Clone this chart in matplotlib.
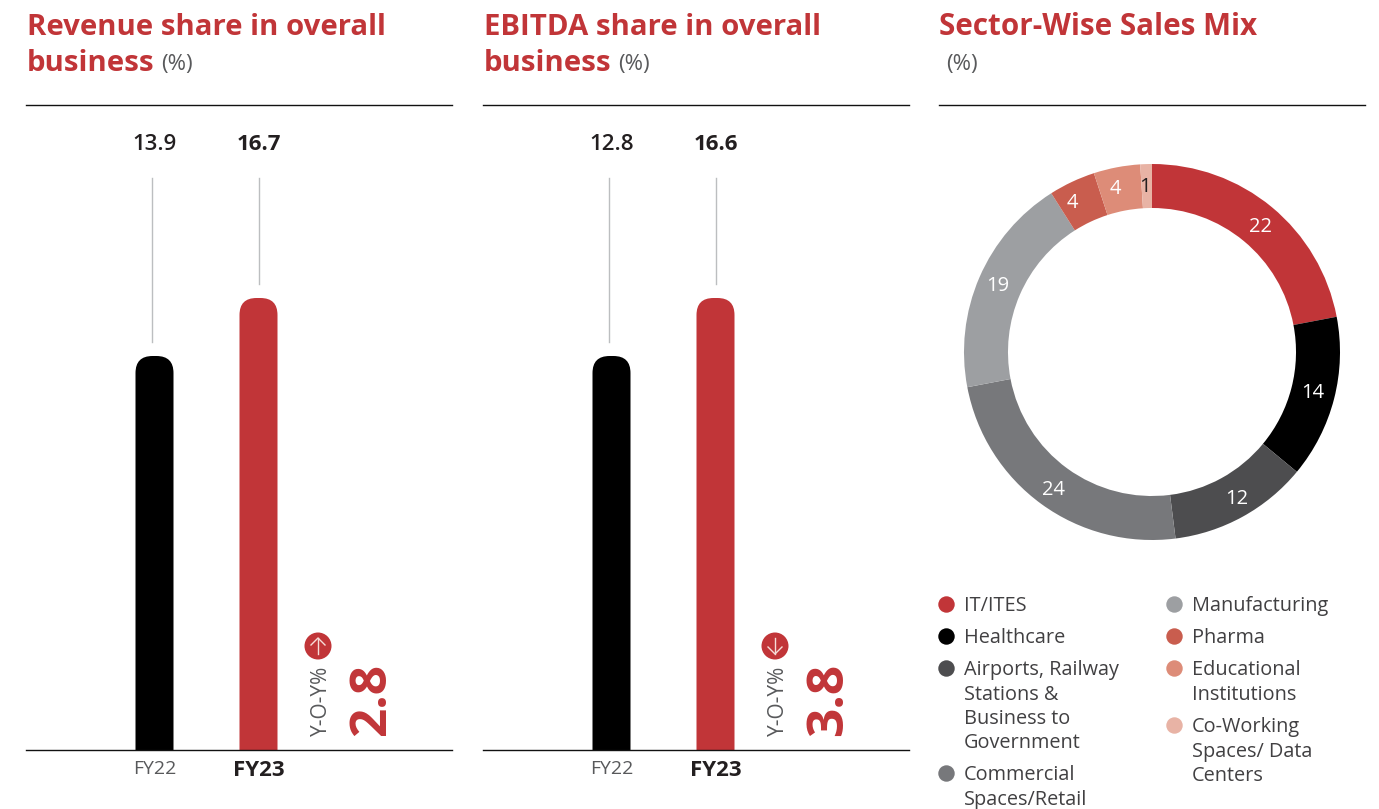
# plot.py
# two rounded bar panels and a sector donut

import matplotlib
matplotlib.use("Agg")
import numpy as np
import matplotlib.pyplot as plt
from matplotlib.patches import FancyBboxPatch, Circle

plt.rcParams["font.family"] = ["Open Sans", "DejaVu Sans"]

years = ["FY22", "FY23"]
revenue = [13.9, 16.7]
ebitda = [12.8, 16.6]
titles = [["Revenue share in overall", "business"], ["EBITDA share in overall", "business"]]
yoy = ["2.8", "3.8"]
arrow_dir = [1, -1]

sectors = ["IT/ITES", "Healthcare", "Airports, Railway\nStations &\nBusiness to\nGovernment",
           "Commercial\nSpaces/Retail", "Manufacturing", "Pharma",
           "Educational\nInstitutions", "Co-Working\nSpaces/ Data\nCenters"]
sales = [22, 14, 12, 24, 19, 4, 4, 1]
colors = ["#c13538", "#000000", "#4d4d4f", "#77787b", "#9d9fa2", "#c95d4e", "#dd8c78", "#e8b3a5"]

RED = "#c13538"
GREY = "#58595b"
W, H = 1379, 809

fig = plt.figure(figsize=(W / 100, H / 100), dpi=100)

def px_axes(x0, y0, x1, y1):
    return fig.add_axes([x0 / W, 1 - y1 / H, (x1 - x0) / W, (y1 - y0) / H])

# overlay in pixel coordinates for titles, rules and legend
ov = fig.add_axes([0, 0, 1, 1], zorder=5)
ov.set_xlim(0, W)
ov.set_ylim(H, 0)
ov.axis("off")
ov.patch.set_alpha(0)

def bar_panel(x0, values, title, change, arrow):
    ax = px_axes(x0, 105, x0 + 426, 750)
    # the bars in the source are not to a zero base, so scale from the two values
    per_px = (values[1] - values[0]) / 58.0
    low = values[0] - 394 * per_px
    ax.set_xlim(0, 426)
    ax.set_ylim(low, low + 645 * per_px)
    centers = [128.5, 232.5]
    line_x = [126, 232.5]
    for cx, lx, v, c in zip(centers, line_x, values, ["#000000", RED]):
        bar = FancyBboxPatch((cx - 19, low - 40 * per_px), 38, v - low + 40 * per_px,
                             boxstyle="round,pad=0,rounding_size=17",
                             mutation_aspect=per_px, fc=c, ec="none")
        ax.add_patch(bar)
        ax.plot([lx, lx], [v + 14 * per_px, low + 572 * per_px], color="#bcbec0", lw=1)
    ax.text(centers[0], low + 606 * per_px, "%.1f" % values[0], ha="center", va="center",
            fontsize=16, fontweight="semibold", color="#231f20")
    ax.text(centers[1], low + 606 * per_px, "%.1f" % values[1], ha="center", va="center",
            fontsize=16, fontweight="bold", color="#231f20")
    ax.set_xticks(centers)
    ax.set_xticklabels(years, fontsize=14, color=GREY)
    ax.get_xticklabels()[1].set_fontweight("bold")
    ax.get_xticklabels()[1].set_fontsize(16)
    ax.get_xticklabels()[1].set_color("#231f20")
    ax.set_yticks([])
    ax.tick_params(axis="x", length=0, pad=7)
    for s in ["left", "right"]:
        ax.spines[s].set_visible(False)
    for s in ["top", "bottom"]:
        ax.spines[s].set_linewidth(1.0)
        ax.spines[s].set_color("#111111")

    ov.text(x0 + 1, 27, title[0], fontsize=21.2, fontweight="bold", color=RED, va="center")
    ov.text(x0 + 1, 63, title[1], fontsize=21.2, fontweight="bold", color=RED, va="center")
    ov.text(x0 + 135, 64, "(%)", fontsize=16, color=GREY, va="center")

    ov.add_patch(Circle((x0 + 292, 646), 13.5, fc=RED, ec="none"))
    # thin arrow glyph inside the circle
    cx, cy = x0 + 292, 646
    ov.plot([cx, cx], [cy - 8, cy + 8], color="#f6dcd8", lw=1)
    ov.plot([cx - 7, cx, cx + 7], [cy - arrow, cy - 8 * arrow, cy - arrow], color="#f6dcd8", lw=1)
    ov.text(x0 + 295, 701, "Y-O-Y%", fontsize=15, color=GREY, rotation=90, ha="center", va="center")
    ov.text(x0 + 346, 699, change, fontsize=37, fontweight="bold", color=RED, rotation=90,
            ha="center", va="center")

bar_panel(26, revenue, titles[0], yoy[0], arrow_dir[0])
bar_panel(483, ebitda, titles[1], yoy[1], arrow_dir[1])

# donut
ax3 = px_axes(964, 164, 1340, 540)
wedges, _ = ax3.pie(sales, colors=colors, startangle=90, counterclock=False, radius=1,
                    wedgeprops=dict(width=0.234, linewidth=0))
ax3.set_xlim(-1, 1)
ax3.set_ylim(-1, 1)
# small pixel nudges, the source labels are not exactly mid ring
nudge = [(2, 3), (0, 0), (5, 1), (-1, 3), (-2, 0), (-9, 2), (-5, 0), (-2, 1)]
for w, v, (dx, dy) in zip(wedges, sales, nudge):
    ang = np.deg2rad((w.theta1 + w.theta2) / 2)
    ax3.text(0.885 * np.cos(ang) + dx / 188, 0.885 * np.sin(ang) - dy / 188, str(v),
             ha="center", va="center", fontsize=14.5,
             color="#231f20" if v == 1 else "white")

ov.text(939, 27, "Sector-Wise Sales Mix", fontsize=21.3, fontweight="bold", color=RED, va="center")
ov.text(946, 64, "(%)", fontsize=16, color=GREY, va="center")
ov.plot([939, 1365], [105, 105], color="#111111", lw=1.0)

# legend, two columns
legend_y = [604, 636, 668, 773, 604, 636, 668, 725]
legend_x = [946, 946, 946, 946, 1174, 1174, 1174, 1174]
for i, name in enumerate(sectors):
    ov.scatter([legend_x[i]], [legend_y[i]], s=140, color=colors[i], linewidths=0)
    ov.text(legend_x[i] + 18, legend_y[i] - 8, name, fontsize=14.3, color="#414042",
            va="top", linespacing=1.3)

fig.savefig("out.png", dpi=100)
